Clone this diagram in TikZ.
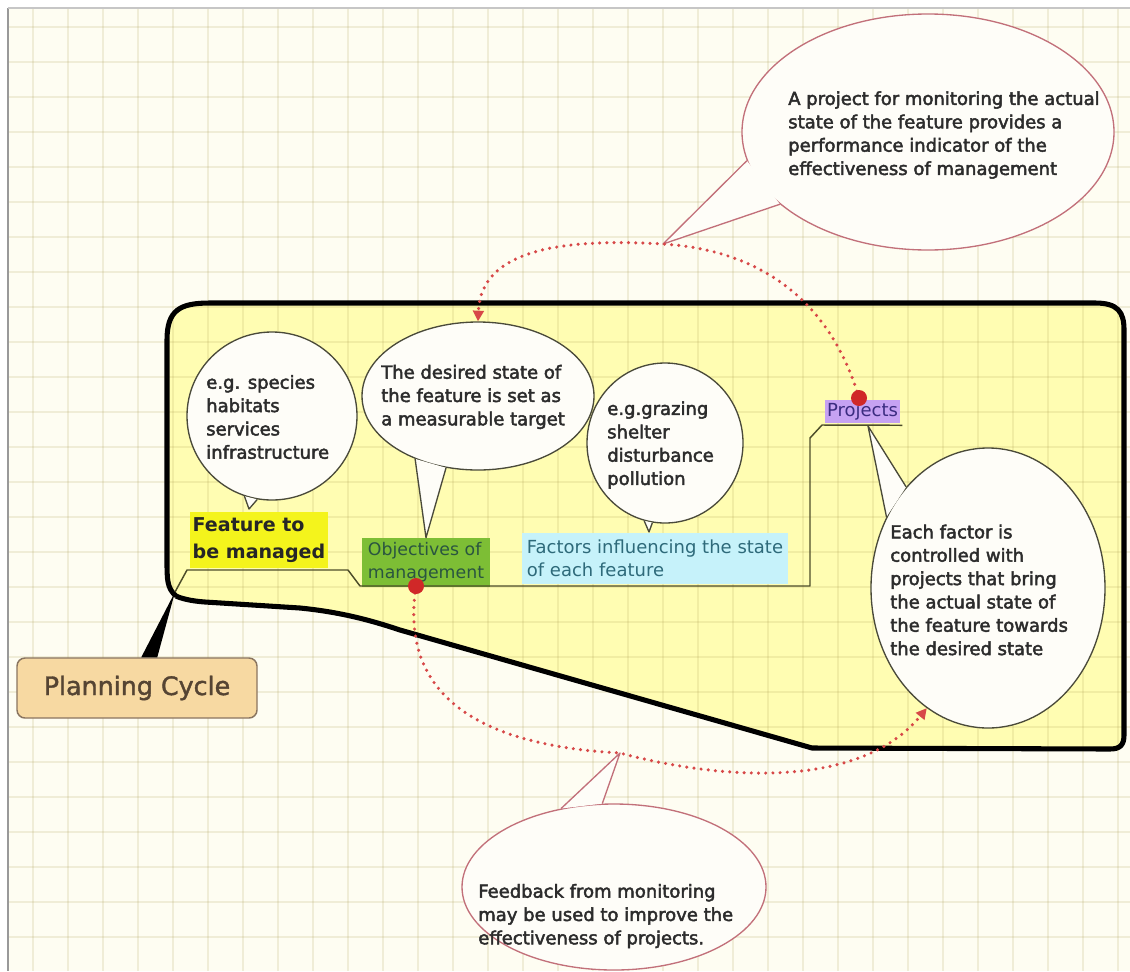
\documentclass[tikz,border=0pt]{standalone}
\usepackage{fontspec}
\setmainfont{DejaVu Sans}
\newfontfamily\bubfont{DejaVu Sans}[FakeBold=2.5]
\newfontfamily\planfont{DejaVu Sans}[FakeBold=1.5]
\usetikzlibrary{shapes.geometric,arrows.meta,calc}
\definecolor{paper}{HTML}{FEFDF2}
\definecolor{cyclefill}{HTML}{FFFDB2}
\definecolor{gridcol}{HTML}{A89A50}
\definecolor{bubfill}{HTML}{FEFDF8}
\definecolor{bubline}{HTML}{4A4A3A}
\definecolor{pinkline}{HTML}{C2707A}
\definecolor{textgray}{HTML}{2C2C2C}
\definecolor{featyellow}{HTML}{F4F41C}
\definecolor{objgreen}{HTML}{7DBE35}
\definecolor{objtext}{HTML}{2A5540}
\definecolor{faccyan}{HTML}{C6F2FA}
\definecolor{factext}{HTML}{2E6A7A}
\definecolor{projpurple}{HTML}{C6A2F2}
\definecolor{projtext}{HTML}{3B2C80}
\definecolor{planfill}{HTML}{F7D9A2}
\definecolor{planline}{HTML}{8A7560}
\definecolor{plantext}{HTML}{554433}
\definecolor{branchcol}{HTML}{4D4D2A}
\definecolor{dotred}{HTML}{D02828}
\begin{document}
\begin{tikzpicture}[x=0.75pt,y=-0.75pt,
  bubble/.style={ellipse,draw=bubline,line width=1pt,fill=bubfill,inner sep=0pt},
  pbubble/.style={bubble,draw=pinkline},
  tailfill/.style={fill=bubfill},
  tailline/.style={draw=bubline,line width=1pt,line join=round},
  ptailline/.style={tailline,draw=pinkline},
  bubtext/.style={font=\bubfont\fontsize{13.5}{17.5}\selectfont,align=left,inner sep=0pt,text=textgray,anchor=west},
  labelbox/.style={rectangle,inner sep=0pt,align=left},
  branch/.style={draw=branchcol,line width=1.1pt,line join=round},
  outline/.style={draw=black,line width=3.8pt,line join=round},
  reddot/.style={circle,fill=dotred,minimum size=12pt,inner sep=0pt},
  gridline/.style={draw=gridcol,opacity=0.16,line width=1pt},
  dots/.style={draw=dotred!85!white,line width=2.6pt,line cap=round,dash pattern=on 0pt off 5.4pt,
    -{Triangle[length=8pt 0,width=8pt 0]}}
]
\useasboundingbox (0,0) rectangle (1130,971);
\fill[white] (0,0) rectangle (1130,971);
\fill[paper] (8,8) rectangle (1130,971);
% yellow cycle region
\fill[cyclefill] (176,596) .. controls (167,588) and (167,580) .. (167,560) -- (167,340)
  .. controls (167,310) and (180,303) .. (210,303) -- (1095,303)
  .. controls (1118,303) and (1124,312) .. (1124,330) -- (1124,735)
  .. controls (1124,745) and (1120,749) .. (1110,749) -- (812,748) -- (400,630)
  .. controls (370,620) and (340,612) .. (300,608) -- (205,602)
  .. controls (190,601) and (180,598) .. (176,596) -- cycle;
% grid
\foreach \x in {33,68,...,1130} \draw[gridline] (\x,8) -- (\x,971);
\foreach \y in {27,62,...,971} \draw[gridline] (8,\y) -- (1130,\y);
\draw[gray!80,line width=1.2pt] (8,8) -- (8,971);
\draw[gray!45,line width=1pt] (8,8) -- (1130,8);
% outline
\draw[outline] (176,596) .. controls (167,588) and (167,580) .. (167,560) -- (167,340)
  .. controls (167,310) and (180,303) .. (210,303) -- (1095,303)
  .. controls (1118,303) and (1124,312) .. (1124,330) -- (1124,735)
  .. controls (1124,745) and (1120,749) .. (1110,749) -- (812,748) -- (400,630)
  .. controls (370,620) and (340,612) .. (300,608) -- (205,602)
  .. controls (190,601) and (180,598) .. (176,596);
\coordinate (hub) at (175,592);

% label boxes
\node[labelbox,fill=featyellow,minimum width=103.5pt,minimum height=42pt,text=black!85,
  font=\bfseries\fontsize{14.3}{20}\selectfont] (feat) at (259,540) {Feature to\\be managed};
\node[labelbox,fill=objgreen,minimum width=96pt,minimum height=36.75pt,text=objtext,
  font=\fontsize{13}{17}\selectfont] (obj) at (426,562.5) {Objectives of\\management};
\node[labelbox,fill=faccyan,minimum width=199.5pt,minimum height=38.25pt,text=factext,
  font=\fontsize{13.5}{17.5}\selectfont] (fac) at (655,558.5) {Factors influencing the state\\of each feature};
\node[labelbox,fill=projpurple,minimum width=56.25pt,minimum height=17.25pt,text=projtext,
  font=\fontsize{13.5}{16}\selectfont] (proj) at (862.5,411.5) {Projects};

% planning cycle
\node[rectangle,rounded corners=6pt,draw=planline,line width=1.1pt,fill=planfill,
  minimum width=180pt,minimum height=45pt,text=plantext,font=\planfont\fontsize{19}{22}\selectfont] (plan) at (137,688) {Planning Cycle};
\fill[black] ($(plan.north west)+(125,0)$) -- ($(plan.north west)+(141,0)$) -- (hub) -- cycle;

% mind-map branch
\draw[branch] (hub) -- (187,570) -- (348,570) -- (360,586) -- (810,586) -- (810,438) -- (822,425) -- ($(proj.south east)+(2,2)$);

% bubble A
\node[bubble,minimum width=127.5pt,minimum height=126pt] (bubA) at (272,416) {};
\coordinate (tipA) at (249,509);
\fill[tailfill] (bubA.-109) -- (tipA) -- (bubA.-100) -- cycle;
\draw[tailline] (bubA.-109) -- (tipA) -- (bubA.-100);
\node[bubtext] (tA) at (206,417) {e.g. species\\habitats\\services\\infrastructure};

% bubble B
\node[bubble,minimum width=174pt,minimum height=111pt] (bubB) at (478,396) {};
\fill[tailfill] (bubB.-135) -- (obj.north) -- (bubB.-114) -- cycle;
\draw[tailline] (bubB.-135) -- (obj.north) -- (bubB.-114);
\node[bubtext] (tB) at (381,397) {The desired state of\\the feature is set as\\a measurable target};

% bubble C
\node[bubble,minimum width=117pt,minimum height=120pt] (bubC) at (665,443) {};
\coordinate (tipC) at (649,532);
\fill[tailfill] (bubC.-105) -- (tipC) -- (bubC.-99) -- cycle;
\draw[tailline] (bubC.-105) -- (tipC) -- (bubC.-99);
\node[bubtext] (tC) at (607,445) {e.g.grazing\\shelter\\disturbance\\pollution};

% bubble D
\node[bubble,minimum width=175.5pt,minimum height=210pt] (bubD) at (988,588) {};
\coordinate (tipD) at (868,426);
\fill[tailfill] (bubD.145) -- (tipD) -- (bubD.129) -- cycle;
\draw[tailline] (bubD.145) -- (tipD) -- (bubD.129);
\node[bubtext] (tD) at (890,590) {Each factor is\\controlled with\\projects that bring\\the actual state of\\the feature towards\\the desired state};

% bubble E
\node[pbubble,minimum width=279pt,minimum height=177pt] (bubE) at (928,132) {};
\coordinate (tipE) at (663,244);
\fill[tailfill] (bubE.-171) -- (tipE) -- (bubE.-154) -- cycle;
\draw[ptailline] (bubE.-171) -- (tipE) -- (bubE.-154);
\node[bubtext] (tE) at (788,135) {A project for monitoring the actual\\state of the feature provides a\\performance indicator of the\\effectiveness of management};

% bubble F
\node[pbubble,minimum width=228pt,minimum height=124.5pt] (bubF) at (614,887) {};
\coordinate (tipF) at (620,753);
\fill[tailfill] (bubF.124) -- (tipF) -- (bubF.98) -- cycle;
\draw[ptailline] (bubF.124) -- (tipF) -- (bubF.98);
\node[bubtext] (tF) at (478,916) {Feedback from monitoring\\may be used to improve the\\effectiveness of projects.};

% dotted feedback curves
\coordinate (dotP) at (859,398);
\coordinate (dotO) at (416,586);
\draw[dots] (dotP) .. controls (830,300) and (760,250) .. (tipE)
  .. controls (560,238) and (481,250) .. (bubB.north);
\draw[dots] (dotO) .. controls (400,690) and (470,745) .. (tipF)
  .. controls (720,780) and (860,790) .. (bubD.-117);
\node[reddot] (dotPn) at (dotP) {};
\node[reddot] (dotOn) at (dotO) {};
\end{tikzpicture}
\end{document}
